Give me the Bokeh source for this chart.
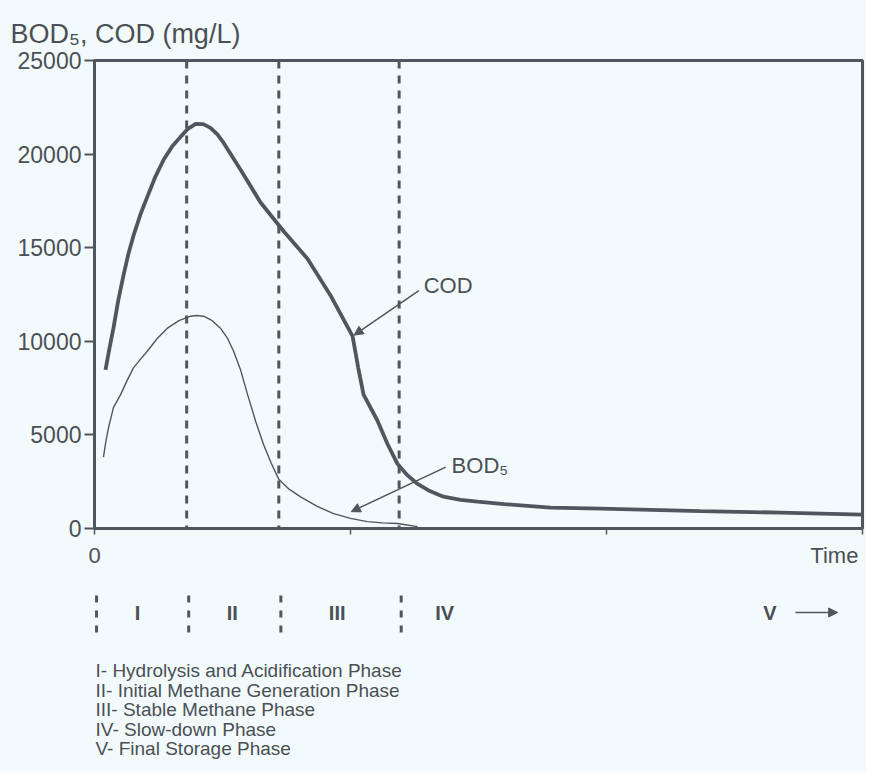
from bokeh.plotting import figure
from bokeh.models import Range1d, FixedTicker, Span, Arrow, NormalHead, Label
from bokeh.layouts import column
from bokeh.core.properties import value
from bokeh.embed import file_html
from bokeh.resources import INLINE

# ---------------- data ----------------
cod_t = [0.043, 0.058, 0.074, 0.093, 0.113, 0.132, 0.152, 0.180, 0.207, 0.238,
         0.270, 0.303, 0.336, 0.365, 0.395, 0.425, 0.453, 0.480, 0.504, 0.570,
         0.648, 0.738, 0.832, 0.922, 1.008, 1.030, 1.051, 1.105, 1.145, 1.184,
         1.222, 1.262, 1.310, 1.363, 1.430, 1.496, 1.600, 1.781, 1.977, 2.367,
         2.680, 3.000]
cod_v = [8475, 9600, 10700, 12200, 13510, 14650, 15630, 16800, 17740, 18800,
         19700, 20400, 20920, 21350, 21610, 21600, 21400, 21050, 20610, 19180,
         17430, 15890, 14410, 12450, 10280, 8600, 7150, 5770, 4500, 3440,
         2850, 2380, 2000, 1700, 1530, 1430, 1300, 1110, 1060, 930,
         850, 740]

bod_t = [0.035, 0.045, 0.055, 0.074, 0.102, 0.127, 0.152, 0.180, 0.207, 0.245,
         0.285, 0.330, 0.375, 0.400, 0.426, 0.460, 0.492, 0.518, 0.543, 0.570,
         0.598, 0.630, 0.660, 0.690, 0.719, 0.760, 0.805, 0.870, 0.934, 1.000,
         1.066, 1.125, 1.184, 1.262]
bod_v = [3810, 4700, 5400, 6460, 7150, 7900, 8580, 9050, 9480, 10150,
         10700, 11100, 11340, 11380, 11340, 11100, 10700, 10200, 9480, 8500,
         7150, 5700, 4500, 3500, 2650, 2100, 1690, 1180, 795, 540,
         370, 300, 265, 100]

phase_bounds = [0.0, 0.36, 0.72, 1.19]
phase_labels = ["I", "II", "III", "IV", "V"]
phase_label_t = [0.16, 0.53, 0.94, 1.36, 2.63]
final_arrow_t = [2.73, 2.895]

y_ticks = [0, 5000, 10000, 15000, 20000, 25000]
x_tick_marks = [0, 1, 2, 3]
x_label_ticks = [0, 2.89]
x_label_text = {2.89: "Time"}

legend_lines = [
    "I- Hydrolysis and Acidification Phase",
    "II- Initial Methane Generation Phase",
    "III- Stable Methane Phase",
    "IV- Slow-down Phase",
    "V- Final Storage Phase",
]

# annotation anchors (data units)
cod_arrow = (1.267, 12710, 1.014, 10330)
cod_text = (1.286, 12970)
bod_arrow = (1.372, 3280, 1.003, 900)
bod_text = (1.395, 3390)

# ---------------- style ----------------
BG = "#f3fafb"
INK = "#50565d"
TXT = "#4a5056"
FONT = "Liberation Sans"

W = 866
H1, H2 = 570, 202

p = figure(width=W, height=H1, output_backend="svg", toolbar_location=None,
           x_range=Range1d(0, 3), y_range=Range1d(0, 25000),
           min_border_left=94, min_border_right=4, min_border_top=60,
           min_border_bottom=38)
p.background_fill_color = BG
p.border_fill_color = BG
p.outline_line_color = INK
p.outline_line_width = 3
p.grid.visible = False

p.title.text = "BOD\u2085, COD (mg/L)"
p.title.align = "left"
p.title.offset = -84
p.title.text_font = FONT
p.title.text_font_style = "normal"
p.title.text_font_size = "27px"
p.title.text_color = TXT
p.title.standoff = 23

p.yaxis.ticker = FixedTicker(ticks=y_ticks)
p.yaxis.major_tick_out = 10
p.yaxis.major_tick_in = 0
p.yaxis.minor_tick_out = 0
p.yaxis.minor_tick_in = 0
p.yaxis.axis_line_width = 3
p.yaxis.axis_line_color = INK
p.yaxis.major_tick_line_color = INK
p.yaxis.major_tick_line_width = 2
p.yaxis.major_label_text_font = FONT
p.yaxis.major_label_text_font_size = "23px"
p.yaxis.major_label_text_color = TXT
p.yaxis.major_label_standoff = 3

p.xaxis.ticker = FixedTicker(ticks=x_label_ticks, minor_ticks=x_tick_marks)
p.xaxis.major_label_overrides = x_label_text
p.xaxis.major_tick_out = 0
p.xaxis.major_tick_in = 0
p.xaxis.minor_tick_out = 6
p.xaxis.minor_tick_in = 0
p.xaxis.minor_tick_line_color = INK
p.xaxis.minor_tick_line_width = 1.5
p.xaxis.axis_line_width = 3
p.xaxis.axis_line_color = INK
p.xaxis.major_label_text_font = FONT
p.xaxis.major_label_text_font_size = "22px"
p.xaxis.major_label_text_color = TXT
p.xaxis.major_label_standoff = 8

for b in phase_bounds[1:]:
    p.add_layout(Span(location=b, dimension="height", line_color=INK,
                      line_width=3, line_dash="8 7"))

p.line(cod_t, cod_v, line_color=INK, line_width=3.8)
p.line(bod_t, bod_v, line_color=INK, line_width=1.4)

head = dict(size=9, fill_color=INK, line_color=INK)
p.add_layout(Arrow(x_start=cod_arrow[0], y_start=cod_arrow[1],
                   x_end=cod_arrow[2], y_end=cod_arrow[3],
                   line_color=INK, line_width=1.5, end=NormalHead(**head)))
p.add_layout(Arrow(x_start=bod_arrow[0], y_start=bod_arrow[1],
                   x_end=bod_arrow[2], y_end=bod_arrow[3],
                   line_color=INK, line_width=1.5, end=NormalHead(**head)))
p.add_layout(Label(x=cod_text[0], y=cod_text[1], text="COD",
                   text_font=FONT, text_font_size="22px", text_color=TXT,
                   text_baseline="middle"))
p.add_layout(Label(x=bod_text[0], y=bod_text[1], text="BOD\u2085",
                   text_font=FONT, text_font_size="22px", text_color=TXT,
                   text_baseline="middle"))

# ---------------- lower panel: phases & legend ----------------
q = figure(width=W, height=H2, output_backend="svg", toolbar_location=None,
           x_range=Range1d(-0.008, 2.992), y_range=Range1d(H2, 0),
           min_border_left=94, min_border_right=4, min_border_top=0,
           min_border_bottom=0)
q.background_fill_color = BG
q.border_fill_color = BG
q.outline_line_color = None
q.axis.visible = False
q.grid.visible = False

q.segment(x0=phase_bounds, y0=[25] * 4, x1=phase_bounds, y1=[65] * 4,
          line_color=INK, line_width=3, line_dash="7 8")
q.text(x=phase_label_t, y=[42] * 5, text=phase_labels,
       text_font=value(FONT), text_font_style="bold", text_font_size="20px",
       text_color=TXT, text_align="center", text_baseline="middle")
q.add_layout(Arrow(x_start=final_arrow_t[0], y_start=42, x_end=final_arrow_t[1],
                   y_end=42, line_color=INK, line_width=1.5,
                   end=NormalHead(**head)))

for i, t in enumerate(legend_lines):
    q.add_layout(Label(x=1, y=100 + 19.5 * i, x_units="screen", y_units="data",
                       text=t, text_font=FONT, text_font_size="19px",
                       text_color=TXT, text_baseline="middle"))

lay = column(p, q, spacing=0)
lay.styles = {"background-color": BG}
open("out.html", "w").write(file_html(lay, INLINE))
